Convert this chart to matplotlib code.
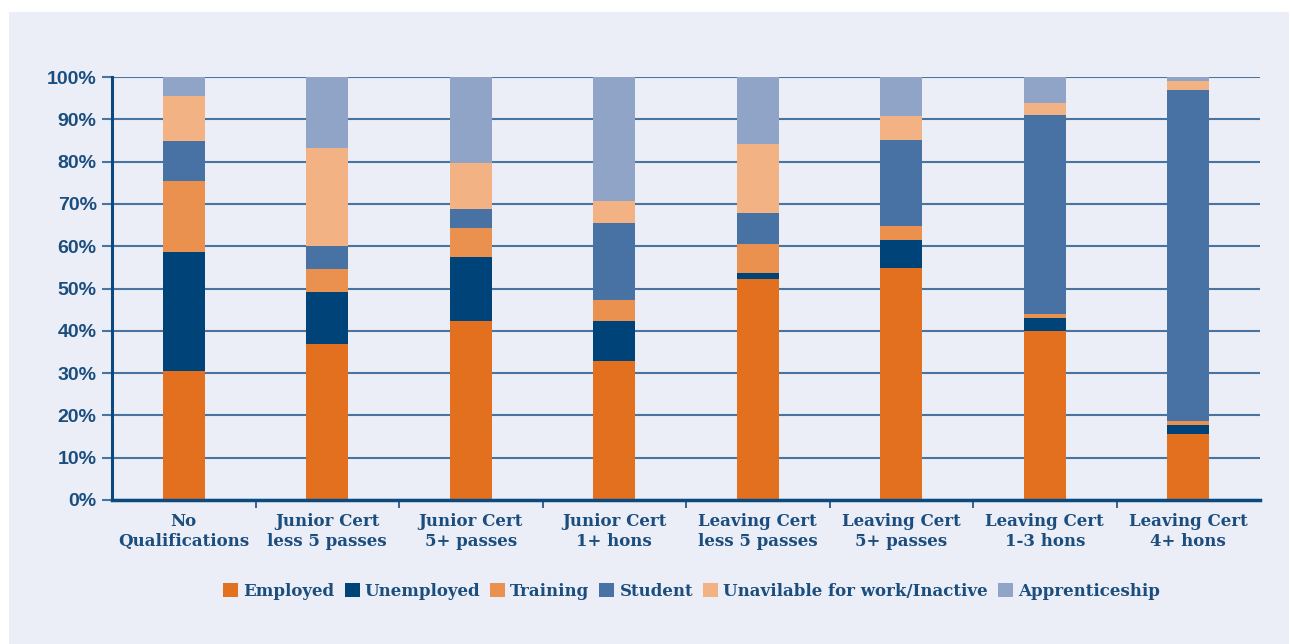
import numpy as np
import matplotlib.pyplot as plt
from matplotlib.patches import Rectangle

categories = ['No\nQualifications', 'Junior Cert\nless 5 passes', 'Junior Cert\n5+ passes',
              'Junior Cert\n1+ hons', 'Leaving Cert\nless 5 passes', 'Leaving Cert\n5+ passes',
              'Leaving Cert\n1-3 hons', 'Leaving Cert\n4+ hons']

employed = [30.5, 36.9, 42.3, 32.9, 52.2, 54.8, 40.0, 15.6]
unemployed = [28.2, 12.3, 15.1, 9.4, 1.5, 6.7, 3.0, 2.1]
training = [16.7, 5.4, 6.9, 5.0, 6.8, 3.3, 1.0, 1.0]
student = [9.5, 5.4, 4.5, 18.2, 7.3, 20.3, 47.0, 78.2]
inactive = [10.6, 23.3, 10.9, 5.2, 16.4, 5.7, 2.9, 2.1]
apprenticeship = [4.5, 16.7, 20.3, 29.3, 15.8, 9.2, 6.1, 1.0]

series_names = ['Employed', 'Unemployed', 'Training', 'Student',
                'Unavilable for work/Inactive', 'Apprenticeship']
colors = ['#E3701E', '#004379', '#EB914F', '#4772A3', '#F3B283', '#90A4C7']

txt = '#1B4D7E'
bg = '#EBEEF6'

fig = plt.figure(figsize=(12.9, 6.44), dpi=100)
fig.patch.set_facecolor('white')
# pale panel behind everything, leaves a thin white strip top and left
fig.patches.append(Rectangle((9 / 1290, 0), 1280 / 1290, 632 / 644,
                             transform=fig.transFigure, facecolor=bg,
                             edgecolor='none', zorder=-5))

ax = fig.add_axes([112 / 1290, 144 / 644, 1148 / 1290, 423 / 644])
ax.set_facecolor(bg)

x = np.arange(len(categories))
data = [employed, unemployed, training, student, inactive, apprenticeship]
bottom = np.zeros(len(categories))
handles = []
for name, vals, c in zip(series_names, data, colors):
    vals = np.array(vals)
    b = ax.bar(x, vals, 0.29, bottom=bottom, color=c, label=name, zorder=3)
    handles.append(b)
    bottom += vals

ax.set_xlim(-0.5, len(categories) - 0.5)
ax.set_ylim(0, 100)
ax.set_yticks(np.arange(0, 101, 10))
ax.set_yticklabels([f'{v}%' for v in range(0, 101, 10)],
                   fontsize=14, fontweight='bold', color=txt,
                   family='Liberation Sans')
ax.yaxis.grid(True, color='#4A74A0', linewidth=1.5, zorder=1)
ax.tick_params(axis='y', length=7, width=1.5, color='#4A74A0', pad=4)

ax.set_xticks(x)
ax.set_xticklabels(categories, fontsize=12, fontweight='bold', color=txt,
                   family='DejaVu Serif', linespacing=1.25)
ax.tick_params(axis='x', length=0, pad=9)
ax.set_xticks(np.arange(0.5, len(categories) - 0.5, 1), minor=True)
ax.tick_params(axis='x', which='minor', length=6, width=1.2, color='#1B4D7E')

for s in ['top', 'right']:
    ax.spines[s].set_visible(False)
ax.spines['bottom'].set_color('#0B4A80')
ax.spines['bottom'].set_linewidth(2.5)
ax.spines['bottom'].set_zorder(4)
ax.spines['left'].set_color('#0B4A80')
ax.spines['left'].set_linewidth(2.2)

leg = fig.legend(handles=handles, loc='center', bbox_to_anchor=(0.536, 0.082),
                 ncol=6, frameon=False, handlelength=0.9, handleheight=0.9,
                 handletextpad=0.3, columnspacing=0.6,
                 prop={'family': 'DejaVu Serif', 'weight': 'bold', 'size': 12})
for t in leg.get_texts():
    t.set_color(txt)

fig.savefig('out.png', dpi=100, facecolor=fig.get_facecolor())
